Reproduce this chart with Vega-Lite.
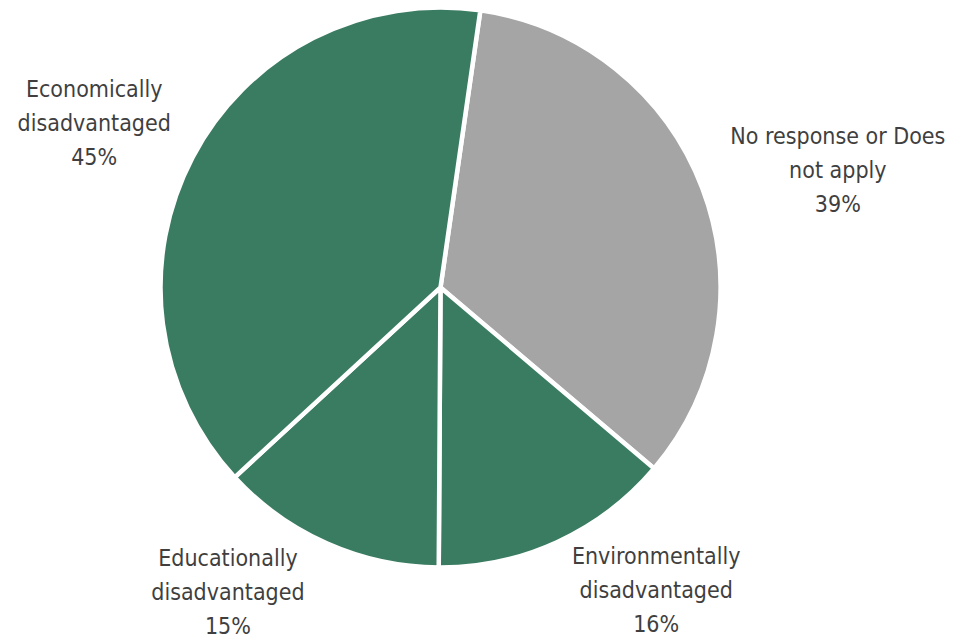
{
  "$schema": "https://vega.github.io/schema/vega-lite/v6.json",
  "width": 881,
  "height": 575,
  "autosize": {"type": "none"},
  "padding": {"left": 0, "top": 0, "right": 72, "bottom": 64},
  "background": "white",
  "view": {"stroke": null},
  "data": {
    "values": [
      {"category": "No response or Does not apply", "value": 39, "label": "No response or Does\nnot apply\n39%"},
      {"category": "Environmentally disadvantaged", "value": 16, "label": "Environmentally\ndisadvantaged\n16%"},
      {"category": "Educationally disadvantaged", "value": 15, "label": "Educationally\ndisadvantaged\n15%"},
      {"category": "Economically disadvantaged", "value": 45, "label": "Economically\ndisadvantaged\n45%"}
    ]
  },
  "encoding": {
    "theta": {"field": "value", "type": "quantitative", "stack": true, "scale": {"range": [0.143, 6.426]}},
    "order": {"field": "category", "sort": "descending"}
  },
  "layer": [
    {
      "mark": {"type": "arc", "outerRadius": 280, "stroke": "white", "strokeWidth": 4.5},
      "encoding": {
        "color": {
          "field": "category",
          "type": "nominal",
          "legend": null,
          "scale": {
            "domain": ["No response or Does not apply", "Environmentally disadvantaged", "Educationally disadvantaged", "Economically disadvantaged"],
            "range": ["#A5A5A5", "#3A7C61", "#3A7C61", "#3A7C61"]
          }
        }
      }
    },
    {
      "mark": {"type": "text", "radius": 380, "dx": 42, "dy": -16, "font": "DejaVu Sans Condensed", "fontSize": 23, "lineHeight": 34, "lineBreak": "\n", "color": "#3F3F3F", "align": "center", "baseline": "middle"},
      "encoding": {
        "detail": {"field": "category"},
        "text": {"condition": {"test": "datum.category == 'No response or Does not apply'", "field": "label"}, "value": ""}
      }
    },
    {
      "mark": {"type": "text", "radius": 380, "dx": 57, "dy": -76, "font": "DejaVu Sans Condensed", "fontSize": 23, "lineHeight": 34, "lineBreak": "\n", "color": "#3F3F3F", "align": "center", "baseline": "middle"},
      "encoding": {
        "detail": {"field": "category"},
        "text": {"condition": {"test": "datum.category == 'Environmentally disadvantaged'", "field": "label"}, "value": ""}
      }
    },
    {
      "mark": {"type": "text", "radius": 380, "dx": -59, "dy": -76, "font": "DejaVu Sans Condensed", "fontSize": 23, "lineHeight": 34, "lineBreak": "\n", "color": "#3F3F3F", "align": "center", "baseline": "middle"},
      "encoding": {
        "detail": {"field": "category"},
        "text": {"condition": {"test": "datum.category == 'Educationally disadvantaged'", "field": "label"}, "value": ""}
      }
    },
    {
      "mark": {"type": "text", "radius": 380, "dx": -10, "dy": -21, "font": "DejaVu Sans Condensed", "fontSize": 23, "lineHeight": 34, "lineBreak": "\n", "color": "#3F3F3F", "align": "center", "baseline": "middle"},
      "encoding": {
        "detail": {"field": "category"},
        "text": {"condition": {"test": "datum.category == 'Economically disadvantaged'", "field": "label"}, "value": ""}
      }
    }
  ]
}
